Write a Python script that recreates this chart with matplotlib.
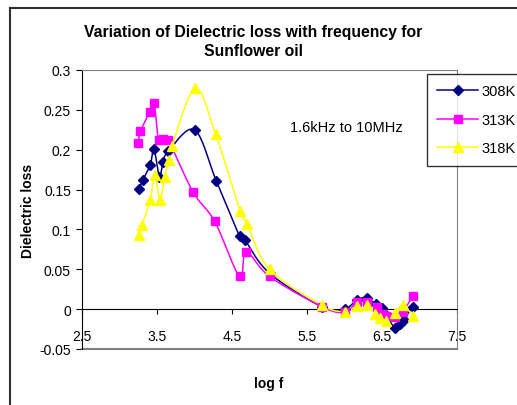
import numpy as np
import matplotlib
matplotlib.use("Agg")
import matplotlib.pyplot as plt
from matplotlib.lines import Line2D

plt.rcParams['font.family'] = ['Liberation Sans', 'DejaVu Sans']

# data
logf_308 = [3.26, 3.31, 3.41, 3.46, 3.53, 3.58, 3.65, 4.00, 4.29, 4.60, 4.67, 5.00,
            5.70, 6.00, 6.17, 6.30, 6.42, 6.50, 6.56, 6.67, 6.74, 6.79, 6.91]
loss_308 = [0.151, 0.162, 0.181, 0.201, 0.166, 0.184, 0.198, 0.225, 0.161, 0.092, 0.087, 0.045,
            0.003, 0.000, 0.012, 0.014, 0.006, 0.002, -0.007, -0.024, -0.019, -0.013, 0.003]

logf_313 = [3.25, 3.28, 3.40, 3.46, 3.52, 3.58, 3.65, 3.98, 4.27, 4.60, 4.69, 5.00,
            5.70, 6.00, 6.17, 6.30, 6.43, 6.50, 6.56, 6.67, 6.78, 6.91]
loss_313 = [0.208, 0.223, 0.247, 0.259, 0.212, 0.213, 0.212, 0.147, 0.110, 0.041, 0.072, 0.041,
            0.003, -0.004, 0.009, 0.009, 0.003, -0.006, -0.009, -0.010, -0.003, 0.017]

logf_318 = [3.26, 3.30, 3.41, 3.47, 3.54, 3.60, 3.66, 3.70, 4.01, 4.28, 4.61, 4.70, 5.00,
            5.70, 6.00, 6.17, 6.30, 6.41, 6.47, 6.56, 6.67, 6.78, 6.91]
loss_318 = [0.093, 0.105, 0.137, 0.168, 0.137, 0.166, 0.187, 0.205, 0.277, 0.220, 0.123, 0.107, 0.050,
            0.005, -0.003, 0.004, 0.005, -0.006, -0.011, -0.015, -0.005, 0.005, -0.008]

series_labels = ['308K', '313K', '318K']
x_ticks = [2.5, 3.5, 4.5, 5.5, 6.5, 7.5]
y_ticks = [-0.05, 0, 0.05, 0.1, 0.15, 0.2, 0.25, 0.3]
y_tick_labels = ['-0.05', '0', '0.05', '0.1', '0.15', '0.2', '0.25', '0.3']


def smooth(x, y, yscale=10.67, n=20):
    """Excel-like smoothed line (bezier through points, catmull-rom tangents)."""
    p = np.column_stack([np.asarray(x, float), np.asarray(y, float) * yscale])
    pts = [p[0]] + list(p) + [p[-1]]
    out = []
    t = np.linspace(0, 1, n)[:, None]
    for i in range(1, len(pts) - 2):
        p0, p1, p2, p3 = pts[i - 1], pts[i], pts[i + 1], pts[i + 2]
        c1 = p1 + (p2 - p0) / 6.0
        c2 = p2 - (p3 - p1) / 6.0
        seg = ((1 - t) ** 3) * p1 + 3 * ((1 - t) ** 2) * t * c1 + 3 * (1 - t) * t ** 2 * c2 + t ** 3 * p2
        out.append(seg if i == 1 else seg[1:])
    out = np.vstack(out)
    return out[:, 0], out[:, 1] / yscale


fig = plt.figure(figsize=(5.17, 4.06), dpi=100)
ax = fig.add_axes([82 / 517, 1 - 350 / 406, 375 / 517, 279 / 406])

styles = [
    (logf_308, loss_308, '#000080', 'D', 5.0),
    (logf_313, loss_313, '#FF00FF', 's', 5.5),
    (logf_318, loss_318, '#FFFF00', '^', 7.0),
]
handles = []
for (xs, ys, col, mk, ms), lab in zip(styles, series_labels):
    sx, sy = smooth(xs, ys)
    ax.plot(sx, sy, color=col, linewidth=1.1, zorder=3)
    ax.plot(xs, ys, linestyle='none', marker=mk, markersize=ms, color=col,
            markeredgecolor=col, zorder=4)
    handles.append(Line2D([], [], color=col, linewidth=1.1, marker=mk,
                          markersize=ms, markeredgecolor=col, label=lab))

ax.set_xlim(2.5, 7.5)
ax.set_ylim(-0.05, 0.3)

for side in ['top', 'right']:
    ax.spines[side].set_color('#808080')
ax.spines['left'].set_color('black')
ax.spines['bottom'].set_position(('data', 0))
ax.spines['bottom'].set_color('black')
ax.axhline(-0.05, color='#808080', linewidth=1.5, clip_on=False)

ax.set_xticks(x_ticks)
ax.set_xticklabels([str(v) for v in x_ticks])
ax.set_yticks(y_ticks)
ax.set_yticklabels(y_tick_labels)
ax.tick_params(axis='x', direction='out', length=3.5, pad=11, labelsize=10)
ax.tick_params(axis='y', direction='out', length=4, pad=4, labelsize=10)

ax.set_xlabel('log f', fontsize=10, fontweight='bold')
ax.xaxis.set_label_coords(0.497, -0.095)
ax.set_ylabel('Dielectric loss', fontsize=10, fontweight='bold')
ax.yaxis.set_label_coords(-0.125, 0.5)

ax.text(0.704, 0.796, '1.6kHz to 10MHz', transform=ax.transAxes, fontsize=10.5,
        ha='center', va='center')

fig.text(253 / 517, 1 - 42 / 406, 'Variation of Dielectric loss with frequency for\nSunflower oil',
         ha='center', va='center', fontsize=11.3, fontweight='bold', linespacing=1.3)

leg = ax.legend(handles=handles, loc='upper left',
                bbox_to_anchor=(427 / 517, 1 - 75 / 406), bbox_transform=fig.transFigure,
                borderaxespad=0, frameon=True, fancybox=False, fontsize=10.5,
                handlelength=2.8, labelspacing=1.0, borderpad=0.7, handletextpad=0.25)
leg.get_frame().set_edgecolor('black')
leg.get_frame().set_linewidth(1.0)

# chart area border (left and top visible)
fig.add_artist(Line2D([10 / 517, 10 / 517], [0, 1 - 9 / 406], color='#303030',
                      linewidth=1.5, transform=fig.transFigure))
fig.add_artist(Line2D([10 / 517, 1], [1 - 9 / 406, 1 - 9 / 406], color='#303030',
                      linewidth=1.5, transform=fig.transFigure))

fig.savefig('out.png', dpi=100)
